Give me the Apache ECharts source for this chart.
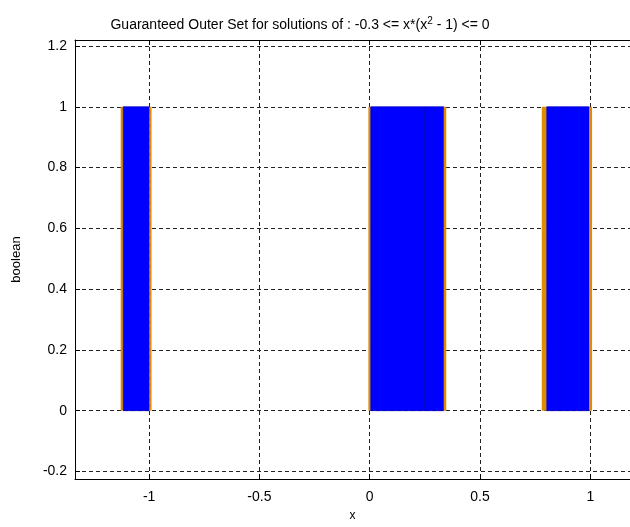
<!DOCTYPE html>
<html>
<head>
<meta charset="utf-8">
<script src="https://cdn.jsdelivr.net/npm/echarts@6/dist/echarts.min.js"></script>
<style>
html, body { margin: 0; padding: 0; background: #fff; }
#main { width: 630px; height: 527px; }
</style>
</head>
<body>
<div id="main"></div>
<script>
// interval boxes of the outer set: [lo, hi], kind and boolean value
var boxLo   = [-1.129, -1.117, -0.999, -0.006, 0.005, 0.249, 0.336, 0.780, 0.803, 0.878, 0.995];
var boxHi   = [-1.117, -0.999, -0.989,  0.005, 0.249, 0.336, 0.347, 0.803, 0.878, 0.995, 1.008];
var boxKind = ['edge', 'inner', 'edge', 'edge', 'inner', 'inner', 'edge', 'edge', 'inner', 'inner', 'edge'];
var boxVal  = [1, 1, 1, 1, 1, 1, 1, 1, 1, 1, 1];

var xTicks = [-1, -0.5, 0, 0.5, 1];
var yTicks = [-0.2, 0, 0.2, 0.4, 0.6, 0.8, 1, 1.2];

var myChart = echarts.init(document.getElementById('main'));

var data = [];
for (var i = 0; i < boxLo.length; i++) {
    data.push([boxLo[i], boxHi[i], boxVal[i], boxKind[i] == 'edge' ? 1 : 0]);
}

var font = 'Liberation Sans';
var gridLine = { show: true, lineStyle: { color: '#222', type: [4, 3], width: 1 } };

option = {
    animation: false,
    backgroundColor: '#fff',
    title: {
        text: 'Guaranteed Outer Set for solutions of : -0.3 <= x*(x{sup|2} - 1) <= 0',
        left: 295,
        top: 11,
        textAlign: 'center',
        textStyle: {
            fontFamily: font,
            fontSize: 14,
            fontWeight: 'normal',
            color: '#000',
            rich: {
                sup: { fontFamily: font, fontSize: 10, color: '#000', padding: [0, 0, 8, 0] }
            }
        }
    },
    grid: { left: 75, top: 40, right: 0, bottom: 42 },
    xAxis: [{
        type: 'value',
        min: -1.336,
        max: 1.18,
        position: 'bottom',
        name: 'x',
        nameLocation: 'middle',
        nameGap: 31,
        nameTextStyle: { fontFamily: font, fontSize: 12, color: '#000' },
        axisLine: { show: true, onZero: false, lineStyle: { color: '#000', width: 1 } },
        axisTick: { show: true, inside: true, length: 5, customValues: xTicks, lineStyle: { color: '#000' } },
        axisLabel: { customValues: xTicks, fontFamily: font, fontSize: 14, color: '#000', margin: 11 },
        splitLine: gridLine
    }, {
        type: 'value',
        min: -1.336,
        max: 1.18,
        position: 'top',
        axisLine: { show: true, onZero: false, lineStyle: { color: '#000', width: 1 } },
        axisTick: { show: true, inside: true, length: 5, customValues: xTicks, lineStyle: { color: '#000' } },
        axisLabel: { show: false },
        splitLine: { show: false }
    }],
    yAxis: {
        type: 'value',
        min: -0.225,
        max: 1.22,
        name: 'boolean',
        nameLocation: 'middle',
        nameGap: 52,
        nameTextStyle: { fontFamily: font, fontSize: 13, color: '#000' },
        axisLine: { show: true, onZero: false, lineStyle: { color: '#000', width: 1 } },
        axisTick: { show: true, inside: true, length: 5, customValues: yTicks, lineStyle: { color: '#000' } },
        axisLabel: {
            customValues: yTicks, fontFamily: font, fontSize: 14, color: '#000', margin: 8,
            formatter: function (v) { return String(Math.round(v * 10) / 10); }
        },
        splitLine: gridLine
    },
    series: [{
        type: 'custom',
        xAxisIndex: 0,
        encode: { x: [0, 1], y: 2 },
        renderItem: function (params, api) {
            var p0 = api.coord([api.value(0), api.value(2)]);
            var p1 = api.coord([api.value(1), 0]);
            var edge = api.value(3) == 1;
            return {
                type: 'rect',
                shape: { x: p0[0], y: p0[1], width: p1[0] - p0[0], height: p1[1] - p0[1] },
                style: edge
                    ? { fill: '#e08c00', stroke: null }
                    : { fill: '#0000ff', stroke: '#0000c8', lineWidth: 0.8 }
            };
        },
        data: data
    }]
};
myChart.setOption(option);
</script>
</body>
</html>
